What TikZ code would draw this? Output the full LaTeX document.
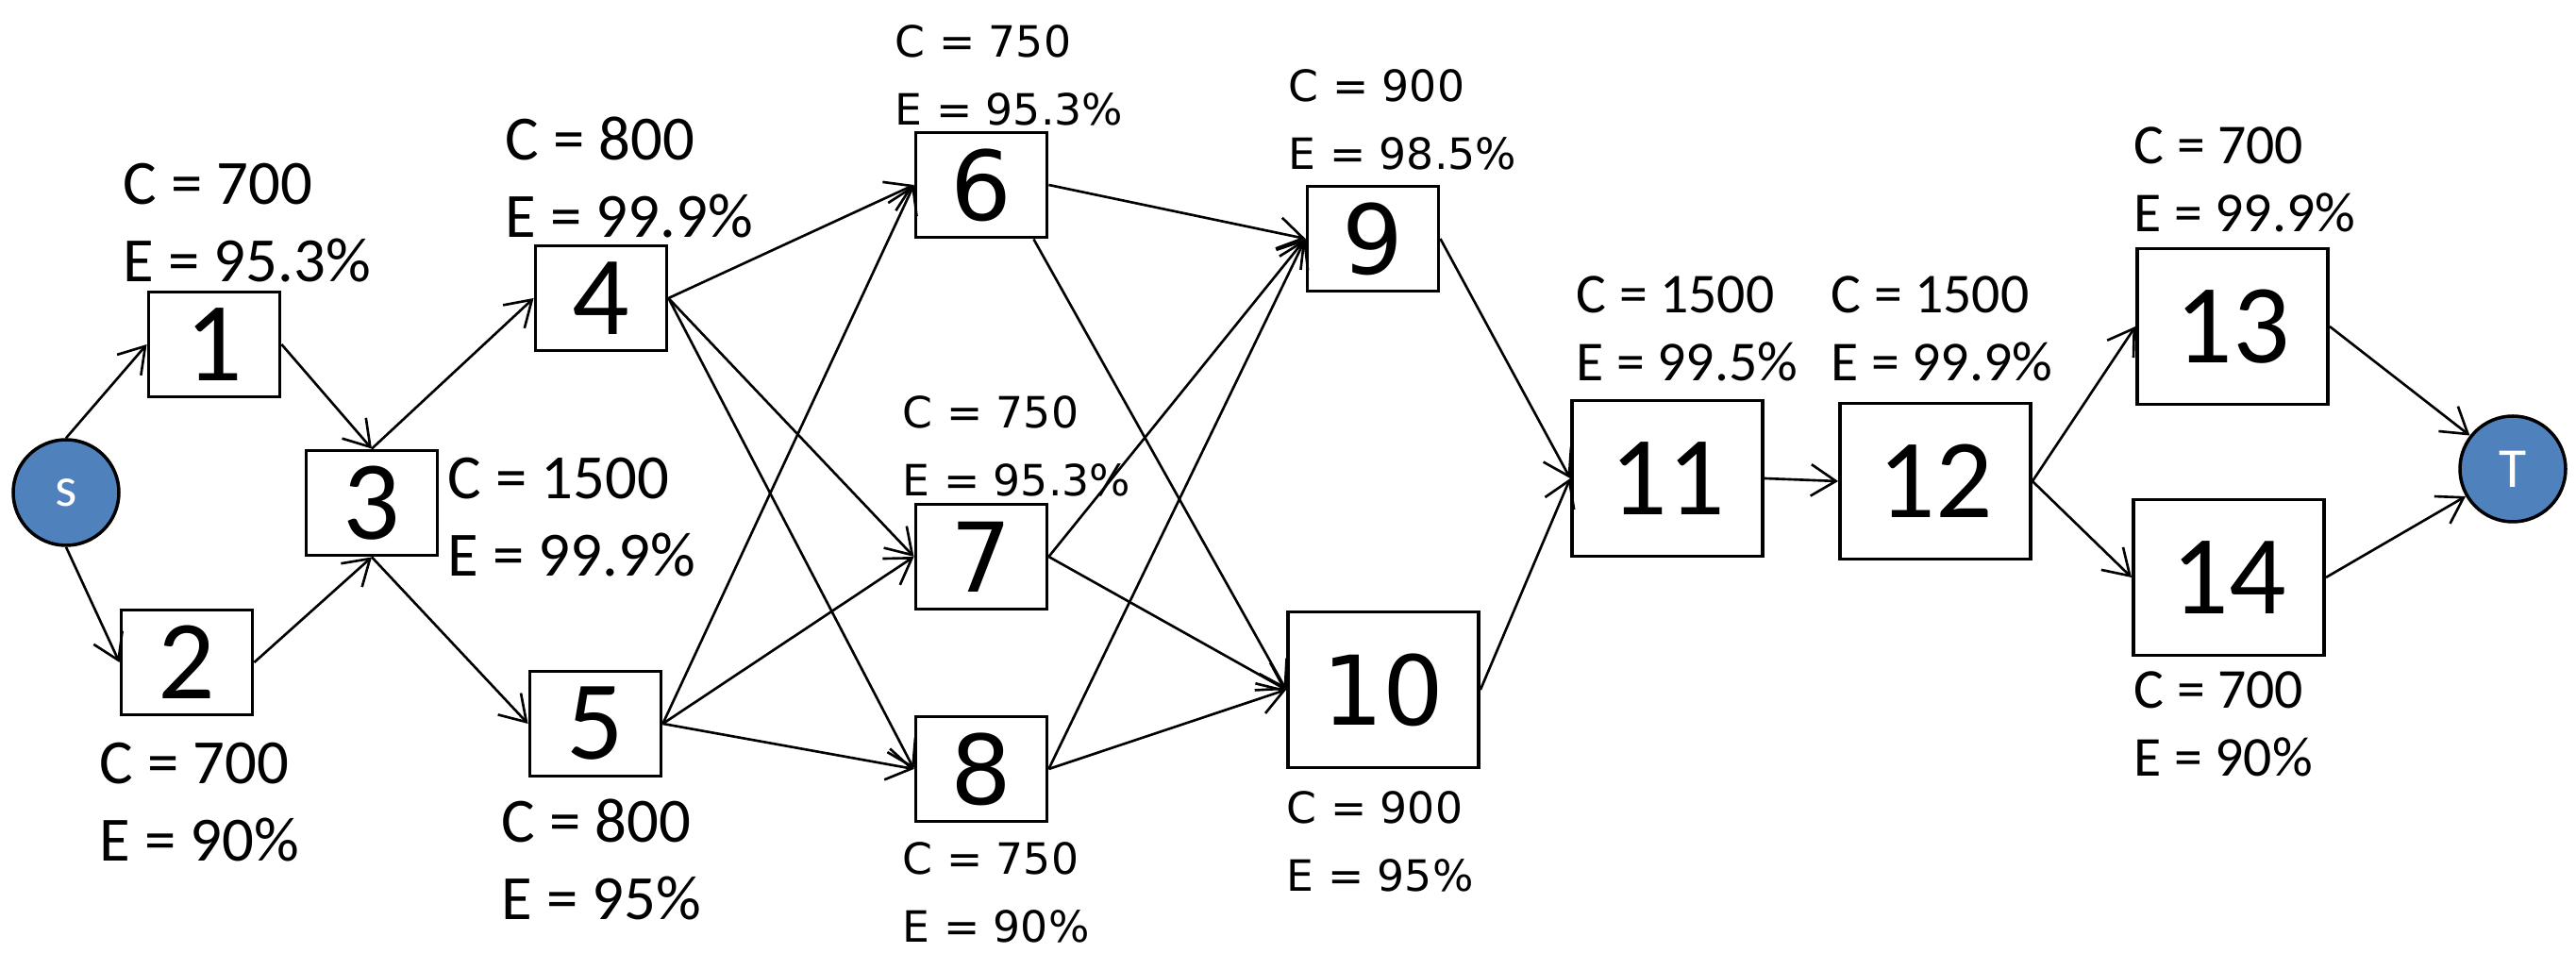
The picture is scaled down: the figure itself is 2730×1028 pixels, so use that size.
\documentclass[tikz,border=0pt]{standalone}
\usepackage{fontspec}
\setmainfont{Carlito}
\newfontfamily\dejavu{DejaVu Sans}
\usetikzlibrary{arrows.meta,positioning}
\definecolor{termblue}{HTML}{4F81BD}

\begin{document}
\begin{tikzpicture}[
  x=0.1mm, y=-0.1mm,
  >={Straight Barb[length=7.5pt,width=9.5pt]},
  box/.style={
    draw,
    minimum width=13.9mm,
    minimum height=11.1mm,
    inner sep=0pt,
    line width=1.1pt,
    font=\fontsize{34}{40}\selectfont
  },
  bigbox/.style={box, minimum width=20.2mm, minimum height=16.5mm},
  wide/.style={font=\dejavu\fontsize{29}{34}\selectfont},
  term/.style={
    circle,
    draw,
    fill=termblue,
    text=white,
    minimum size=11.2mm,
    inner sep=0pt,
    line width=1pt,
    font=\fontsize{17}{20}\selectfont
  },
  cost/.style={anchor=north west, inner sep=0pt, align=left, font=\fontsize{19}{23.5}\selectfont},
  costsmall/.style={cost, font=\fontsize{17}{20.5}\selectfont},
  costwide/.style={cost, font=\dejavu\fontsize{13}{20.5}\selectfont},
  arrow/.style={->, line width=0.75pt}
]
\path[use as bounding box, fill=white] (0,0) rectangle (2730,1028);

% Source and sink
\node[term] (s) at (70,522) {s};
\node[term] (T) at (2663,497) {T};

% First stage
\node[box] (n1) at (227,365) {1};
\node[box] (n2) at (198,702) {2};
\node[box] (n3) at (394,533) {3};
\node[box] (n4) at (637,316) {4};
\node[box] (n5) at (631,767) {5};

% Middle stage
\node[box, wide] (n6) at (1040,196) {6};
\node[box, wide] (n7) at (1040,590) {7};
\node[box, wide] (n8) at (1040,815) {8};
\node[box, wide] (n9) at (1455,253) {9};
\node[bigbox, wide] (n10) at (1466,731) {10};

% Last stage
\node[bigbox] (n11) at (1767,507) {11};
\node[bigbox] (n12) at (2051,510) {12};
\node[bigbox] (n13) at (2366,346) {13};
\node[bigbox] (n14) at (2362,612) {14};

% Cost and efficiency labels
\node[cost] (c1) at (130,172) {C = 700\\E = 95.3\%};
\node[cost] (c2) at (105,786) {C = 700\\E = 90\%};
\node[cost] (c3) at (474,484) {C = 1500\\E = 99.9\%};
\node[cost] (c4) at (535,123) {C = 800\\E = 99.9\%};
\node[cost] (c5) at (531,846) {C = 800\\E = 95\%};
\node[costwide] (c6) at (948,26) {C = 750\\E = 95.3\%};
\node[costwide] (c7) at (956,419) {C = 750\\E = 95.3\%};
\node[costwide] (c8) at (956,892) {C = 750\\E = 90\%};
\node[costwide] (c9) at (1365,73) {C = 900\\E = 98.5\%};
\node[costwide] (c10) at (1363,838) {C = 900\\E = 95\%};
\node[costsmall] (c11) at (1670,292) {C = 1500\\E = 99.5\%};
\node[costsmall] (c12) at (1940,292) {C = 1500\\E = 99.9\%};
\node[costsmall] (c13) at (2261,134) {C = 700\\E = 99.9\%};
\node[costsmall] (c14) at (2261,711) {C = 700\\E = 90\%};

% First stage arrows
\draw[arrow] (s.north) -- (n1.west);
\draw[arrow] (s.south) -- (n2.west);
\draw[arrow] (n1.east) -- (n3.north);
\draw[arrow] (n2.east) -- (n3.south);
\draw[arrow] (n3.north) -- (n4.west);
\draw[arrow] (n3.south) -- (n5.west);

% Middle stage arrows
\draw[arrow] (n4.east) -- (n6.west);
\draw[arrow] (n4.east) -- (n7.west);
\draw[arrow] (n4.east) -- (n8.west);
\draw[arrow] (n5.east) -- (n6.west);
\draw[arrow] (n5.east) -- (n7.west);
\draw[arrow] (n5.east) -- (n8.west);
\draw[arrow] (n6.east) -- (n9.west);
\draw[arrow] ([xshift=-1.6mm]n6.south east) -- (n10.west);
\draw[arrow] (n7.east) -- (n9.west);
\draw[arrow] (n7.east) -- (n10.west);
\draw[arrow] (n8.east) -- (n9.west);
\draw[arrow] (n8.east) -- (n10.west);

% Last stage arrows
\draw[arrow] (n9.east) -- (n11.west);
\draw[arrow] (n10.east) -- (n11.west);
\draw[arrow] (n11.east) -- (n12.west);
\draw[arrow] (n12.east) -- (n13.west);
\draw[arrow] (n12.east) -- (n14.west);
\draw[arrow] (n13.east) -- (T);
\draw[arrow] (n14.east) -- (T);

\end{tikzpicture}
\end{document}
